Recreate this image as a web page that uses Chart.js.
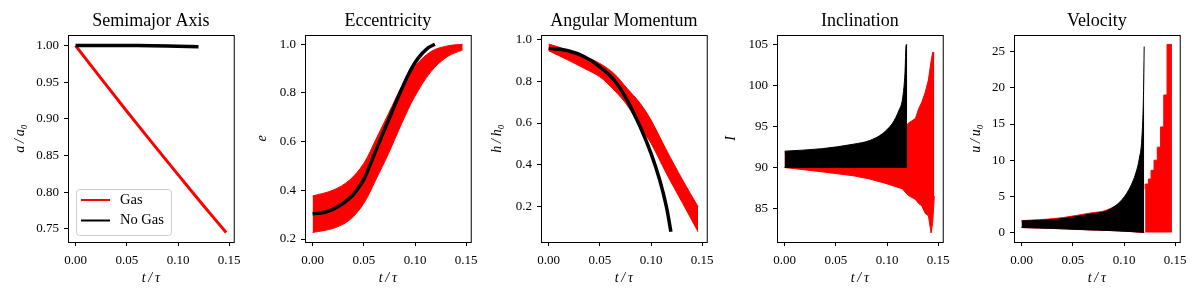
<!DOCTYPE html>
<html>
<head>
<meta charset="utf-8">
<script src="https://cdn.jsdelivr.net/npm/chart.js@4.4.1/dist/chart.umd.min.js"></script>
<style>
  body { margin: 0; background: #fff; }
  #wrap { position: relative; width: 1200px; height: 300px; overflow: hidden; }
  canvas { position: absolute; top: 0; }
</style>
</head>
<body>
<div id="wrap">
  <canvas id="semi" width="242" height="300"></canvas>
  <canvas id="ecc" width="242" height="300"></canvas>
  <canvas id="ang" width="242" height="300"></canvas>
  <canvas id="inc" width="242" height="300"></canvas>
  <canvas id="vel" width="242" height="300"></canvas>
</div>
<script>
const seriesNames = ['Gas', 'No Gas'];
const RED = '#ff0000';
const BLACK = '#000000';

// Semimajor axis
const tSemiGas = [0, 0.025, 0.05, 0.075, 0.10, 0.125, 0.147];
const semiGas = [1.0, 0.955, 0.9105, 0.867, 0.824, 0.7815, 0.745];
const tSemiNoGas = [0, 0.06, 0.12];
const semiNoGas = [1.0, 1.0, 0.9985];

// Eccentricity
const tEccNoGas = [0, 0.0137, 0.0248, 0.036, 0.043, 0.05, 0.0567, 0.0646, 0.0742, 0.0838, 0.0933, 0.1029, 0.1124, 0.1194];
const eccNoGas = [0.303, 0.312, 0.333, 0.367, 0.400, 0.445, 0.511, 0.593, 0.689, 0.785, 0.874, 0.942, 0.984, 1.0];
const tEccGas = [0, 0.02, 0.036, 0.05, 0.0615, 0.0742, 0.087, 0.0997, 0.1156, 0.1315, 0.1465];
const eccGasHi = [0.377, 0.401, 0.442, 0.511, 0.607, 0.716, 0.826, 0.908, 0.970, 0.993, 1.0];
const eccGasLo = [0.227, 0.244, 0.278, 0.347, 0.442, 0.552, 0.675, 0.785, 0.888, 0.949, 0.977];

// Angular momentum
const tAngNoGas = [0, 0.019, 0.035, 0.05, 0.0638, 0.0766, 0.0894, 0.10, 0.1085, 0.115, 0.1194];
const angNoGas = [0.957, 0.946, 0.917, 0.869, 0.806, 0.71, 0.582, 0.455, 0.327, 0.2, 0.08];
const tAngGas = [0, 0.019, 0.035, 0.05, 0.0638, 0.0766, 0.0894, 0.10, 0.115, 0.1309, 0.1459];
const angGasHi = [0.978, 0.949, 0.920, 0.885, 0.837, 0.766, 0.694, 0.614, 0.471, 0.327, 0.2];
const angGasLo = [0.946, 0.901, 0.861, 0.821, 0.758, 0.686, 0.582, 0.503, 0.359, 0.216, 0.08];

// Inclination
const tIncNoGas = [0, 0.036, 0.067, 0.083, 0.0957, 0.1053, 0.1085, 0.1117, 0.1149, 0.1165, 0.1175, 0.1187, 0.1197];
const incNoGasHi = [92.0, 92.3, 92.85, 93.3, 94.15, 95.4, 96.1, 97.0, 98.2, 99.8, 101.5, 105.0, 105.0];
const incNoGasLo = [90, 90, 90, 90, 90, 90, 90, 90, 90, 90, 90, 90, 90];
const tIncGas = [0, 0.0351, 0.067, 0.083, 0.099, 0.1149, 0.1206, 0.1277, 0.1309, 0.134, 0.1373, 0.1404, 0.143, 0.1446, 0.1462];
const incGasHi = [91.8, 92.1, 92.6, 93.0, 93.6, 94.0, 95.4, 96.0, 97.2, 98.0, 99.2, 100.7, 103.0, 104.1, 104.0];
const incGasLo = [90.0, 89.5, 89.0, 88.6, 88.05, 87.4, 86.6, 86.1, 85.6, 85.3, 84.4, 84.1, 82.0, 83.3, 86.5];

// Velocity
const tVelNoGas = [0, 0.035, 0.067, 0.083, 0.0957, 0.105, 0.1117, 0.1149, 0.1174, 0.119, 0.1197];
const velNoGasHi = [1.6, 1.85, 2.55, 3.0, 4.2, 6.0, 8.3, 10.2, 13.0, 19.0, 25.7];
const velNoGasLo = [0.7, 0.55, 0.37, 0.3, 0.22, 0.16, 0.1, 0.08, 0.05, 0.02, 0.0];
const tVelGas = [0, 0.035, 0.067, 0.083, 0.1, 0.1197];
const velGasHi = [1.65, 1.98, 2.7, 3.1, 4.4, 6.0];
const velGasLo = [0.7, 0.55, 0.37, 0.3, 0.2, 0.0];
const tVelGasLate = [0.1206, 0.1238, 0.1264, 0.1293, 0.1325, 0.1357, 0.1388, 0.142, 0.1446, 0.1468];
const velGasLate = [6.0, 6.7, 7.4, 8.6, 10.0, 11.8, 14.6, 19.0, 26.0, 26.0];

const SERIF = '"Liberation Serif", "DejaVu Serif", serif';

function pts(ts, ys) {
    return ts.map((t, i) => ({ x: t, y: ys[i] }));
}

function series(ts, ys, color, width, extra) {
    return Object.assign({
        data: pts(ts, ys),
        borderColor: color,
        backgroundColor: color,
        borderWidth: width,
        pointRadius: 0,
        fill: false,
        tension: 0.35
    }, extra || {});
}

// black box round the plot area, like matplotlib spines
const frame = {
    id: 'frame',
    afterDatasetsDraw(chart) {
        const { ctx, chartArea: a } = chart;
        ctx.save();
        ctx.strokeStyle = '#000';
        ctx.lineWidth = 1;
        ctx.strokeRect(a.left + 0.5, a.top + 0.5, a.right - a.left, a.bottom - a.top);
        ctx.restore();
    }
};

// legend drawn inside the plot, lower left
const boxLegend = {
    id: 'boxLegend',
    afterDraw(chart, args, opts) {
        if (!opts.items) return;
        const { ctx, chartArea: a } = chart;
        const w = 95, h = 46;
        const x = a.left + 8, y = a.bottom - 7 - h;
        ctx.save();
        ctx.fillStyle = 'rgba(255,255,255,0.8)';
        ctx.strokeStyle = '#cccccc';
        ctx.lineWidth = 1;
        ctx.beginPath();
        ctx.roundRect(x + 0.5, y + 0.5, w, h, 3);
        ctx.fill();
        ctx.stroke();
        ctx.font = '14.5px ' + SERIF;
        ctx.textBaseline = 'middle';
        opts.items.forEach((it, i) => {
            const cy = y + 11 + i * 20.5;
            ctx.strokeStyle = it.color;
            ctx.lineWidth = 2;
            ctx.beginPath();
            ctx.moveTo(x + 5, cy);
            ctx.lineTo(x + 34, cy);
            ctx.stroke();
            ctx.fillStyle = '#000';
            ctx.fillText(it.text, x + 44, cy);
        });
        ctx.restore();
    }
};

function makePanel(id, left, cfg) {
    const canvas = document.getElementById(id);
    canvas.style.left = (left - 62) + 'px';
    const tickFont = { family: SERIF, size: 13 };
    const axisFont = { family: SERIF, size: 14, style: 'italic', lineHeight: 1.2 };
    const tickGrid = { drawOnChartArea: false, drawTicks: true, tickLength: 4, tickColor: '#000', color: '#000', lineWidth: 1 };
    new Chart(canvas, {
        type: 'line',
        data: { datasets: cfg.datasets },
        options: {
            responsive: false,
            animation: false,
            events: [],
            layout: { padding: { left: 0, right: 12, top: 0, bottom: 0 } },
            plugins: {
                legend: { display: false },
                tooltip: { enabled: false },
                title: {
                    display: true, text: cfg.title, fullSize: false, color: '#000',
                    font: { family: SERIF, size: 18, weight: 'normal', lineHeight: 1.2 },
                    padding: { top: 10.4, bottom: 3 }
                },
                boxLegend: { items: cfg.legend || null }
            },
            scales: {
                x: {
                    type: 'linear', min: -0.0074, max: 0.1544,
                    afterFit: s => { s.height = 58; },
                    grid: tickGrid,
                    border: { display: false },
                    ticks: { stepSize: 0.05, includeBounds: false, padding: 7, color: '#000', font: tickFont, maxRotation: 0, callback: v => v.toFixed(2) },
                    title: { display: true, text: 't\u2009/\u2009τ', color: '#000', font: axisFont, padding: { top: 0, bottom: 13 } }
                },
                y: {
                    type: 'linear', min: cfg.yMin, max: cfg.yMax,
                    afterFit: s => { s.width = 62; },
                    grid: tickGrid,
                    border: { display: false },
                    ticks: { stepSize: cfg.yStep, includeBounds: false, padding: 5, color: '#000', font: tickFont, callback: v => v.toFixed(cfg.yDec) },
                    title: { display: true, text: cfg.yTitle, color: '#000', font: axisFont, padding: { top: cfg.yTitlePad, bottom: 0 } }
                }
            }
        },
        plugins: [frame, boxLegend]
    });
}

makePanel('semi', 68, {
    title: 'Semimajor Axis', yTitle: 'a\u2009/\u2009a₀',
    yMin: 0.732, yMax: 1.0145, yStep: 0.05, yDec: 2, yTitlePad: 6,
    legend: [{ text: seriesNames[0], color: RED }, { text: seriesNames[1], color: BLACK }],
    datasets: [
        series(tSemiNoGas, semiNoGas, BLACK, 3.5),
        series(tSemiGas, semiGas, RED, 3)
    ]
});

makePanel('ecc', 305, {
    title: 'Eccentricity', yTitle: 'e',
    yMin: 0.188, yMax: 1.038, yStep: 0.2, yDec: 1, yTitlePad: 11.1,
    datasets: [
        series(tEccNoGas, eccNoGas, BLACK, 3.5),
        series(tEccGas, eccGasHi, RED, 1, { fill: '+1' }),
        series(tEccGas, eccGasLo, RED, 1)
    ]
});

makePanel('ang', 541, {
    title: 'Angular Momentum', yTitle: 'h\u2009/\u2009h₀',
    yMin: 0.031, yMax: 1.021, yStep: 0.2, yDec: 1, yTitlePad: 10,
    datasets: [
        series(tAngNoGas, angNoGas, BLACK, 3.5),
        series(tAngGas, angGasHi, RED, 1, { fill: '+1' }),
        series(tAngGas, angGasLo, RED, 1)
    ]
});

makePanel('inc', 777, {
    title: 'Inclination', yTitle: 'I',
    yMin: 80.9, yMax: 106.2, yStep: 5, yDec: 0, yTitlePad: 7.6,
    datasets: [
        series(tIncNoGas, incNoGasHi, BLACK, 1, { fill: '+1', cubicInterpolationMode: 'monotone' }),
        series(tIncNoGas, incNoGasLo, BLACK, 1),
        series(tIncGas, incGasHi, RED, 1, { fill: '+1', tension: 0 }),
        series(tIncGas, incGasLo, RED, 1, { tension: 0 })
    ]
});

makePanel('vel', 1014, {
    title: 'Velocity', yTitle: 'u\u2009/\u2009u₀',
    yMin: -1.3, yMax: 27.3, yStep: 5, yDec: 0, yTitlePad: 15.6,
    datasets: [
        series(tVelNoGas, velNoGasHi, BLACK, 1, { fill: '+1', cubicInterpolationMode: 'monotone' }),
        series(tVelNoGas, velNoGasLo, BLACK, 1),
        series(tVelGasLate, velGasLate, RED, 1, { fill: 'origin', stepped: 'after' }),
        series(tVelGas, velGasHi, RED, 1, { fill: '+1' }),
        series(tVelGas, velGasLo, RED, 1)
    ]
});
</script>
</body>
</html>
